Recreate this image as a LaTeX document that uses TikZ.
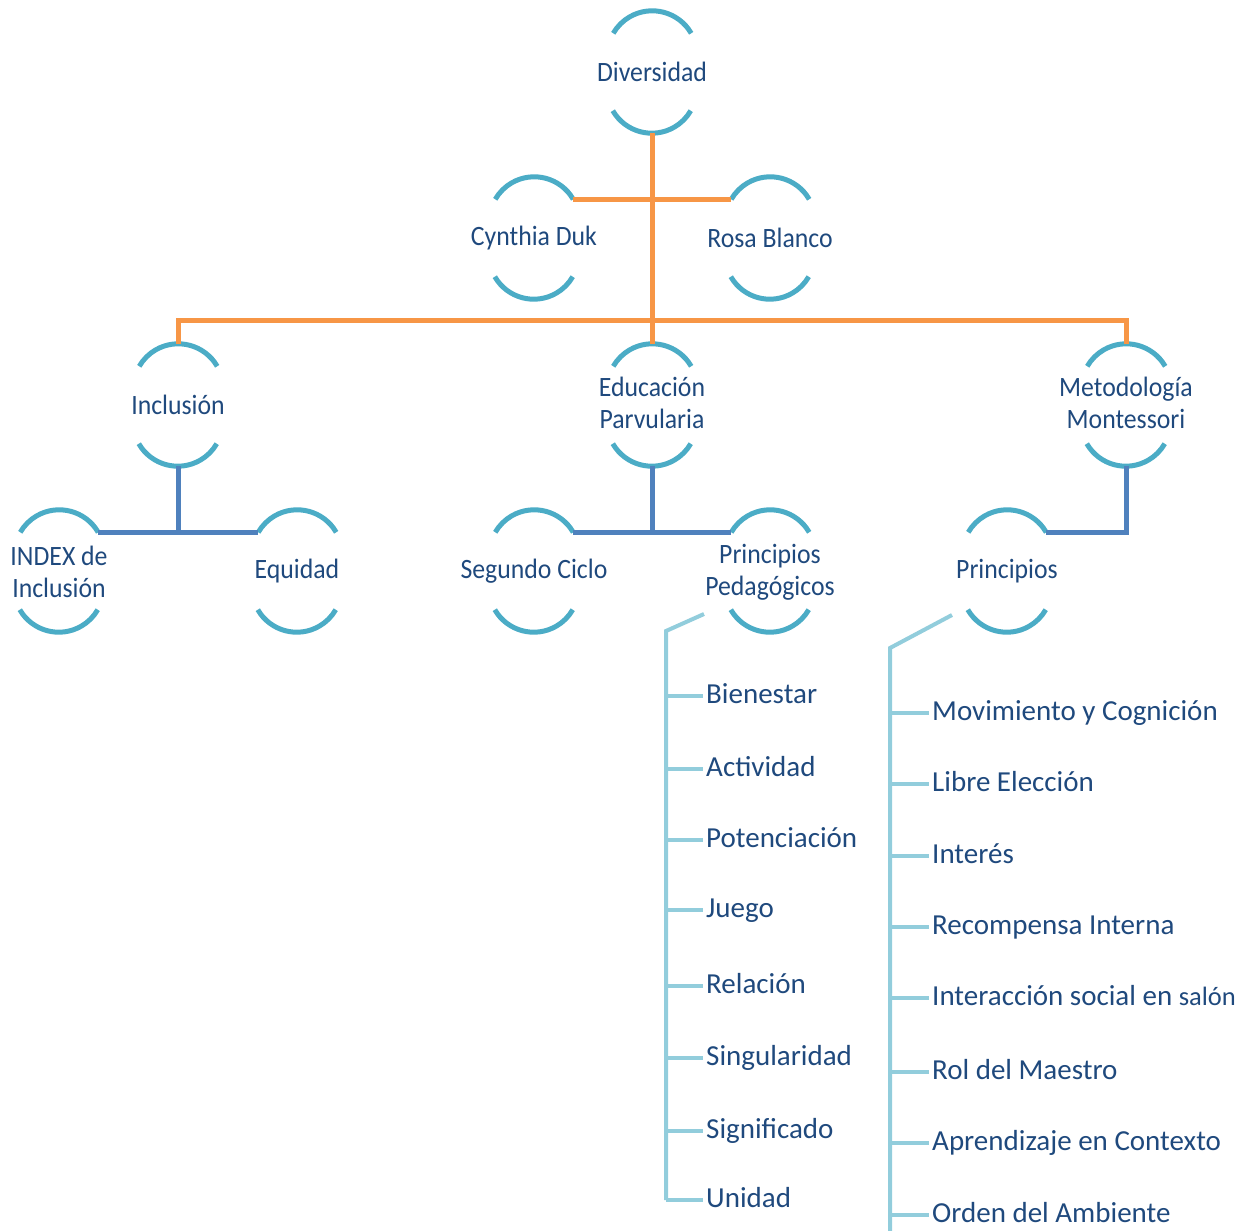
\documentclass[tikz,border=0pt]{standalone}
\usepackage{fontspec}
\setmainfont{Carlito}
\newfontfamily\condfont[FakeStretch=0.92]{Carlito}
\definecolor{txt}{HTML}{1F497D}
\definecolor{arcc}{HTML}{4BACC6}
\definecolor{org}{HTML}{F79646}
\definecolor{blu}{HTML}{4F81BD}
\definecolor{lbl}{HTML}{92CDDC}
\begin{document}
\begin{tikzpicture}[x=1pt,y=-1pt,
  ring/.style={rectangle,minimum width=78pt,minimum height=77pt,inner sep=0pt},
  lab/.style={inner sep=0pt,align=center,text=txt,font=\condfont\fontsize{28}{32}\selectfont},
  arcline/.style={draw=arcc,line width=5pt},
  oline/.style={draw=org,line width=5pt},
  bline/.style={draw=blu,line width=5pt},
  lline/.style={draw=lbl,line width=4pt},
  item/.style={anchor=west,inner sep=0pt,text=txt,font=\fontsize{29}{34}\selectfont,text height=14pt,text depth=0pt}]
\useasboundingbox (0,0) rectangle (1250,1231);

% ring nodes (box corners = arc end points)
\node[ring] (div) at (652,72) {};
\node[ring] (cyn) at (534,238) {};
\node[ring] (ros) at (770,238) {};
\node[ring] (inc) at (178,405) {};
\node[ring] (edu) at (652,405) {};
\node[ring] (met) at (1126,405) {};
\node[ring] (idx) at (59,571) {};
\node[ring] (equ) at (297,571) {};
\node[ring] (seg) at (534,571) {};
\node[ring] (ped) at (770,571) {};
\node[ring] (pri) at (1007,571) {};

\node[lab] (div-t) at (div) {Diversidad};
\node[lab] (cyn-t) at (cyn) {Cynthia Duk};
\node[lab] (ros-t) at (ros) {Rosa Blanco};
\node[lab] (inc-t) at (inc) {Inclusión};
\node[lab] (edu-t) at ([yshift=2pt]edu.center) {Educación\\Parvularia};
\node[lab] (met-t) at ([yshift=2pt]met.center) {Metodología\\Montessori};
\node[lab] (idx-t) at ([yshift=-1pt]idx.center) {INDEX de\\Inclusión};
\node[lab] (equ-t) at (equ) {Equidad};
\node[lab] (seg-t) at (seg) {Segundo Ciclo};
\node[lab] (ped-t) at ([yshift=-1pt]ped.center) {Principios\\Pedagógicos};
\node[lab] (pri-t) at (pri) {Principios};

\foreach \n in {div,cyn,ros,inc,edu,met,idx,equ,seg,ped,pri}{
  \draw[arcline] (\n.north east) arc[start angle=30,end angle=150,radius=45pt];
  \draw[arcline] (\n.south west) arc[start angle=210,end angle=330,radius=45pt];
  \coordinate (\n-top) at ([yshift=22.5pt]\n.north);
  \coordinate (\n-bot) at ([yshift=-22.5pt]\n.south);
}

% orange connectors
\coordinate (hub) at (652,320);
\draw[oline] (div-bot) -- (edu-top);
\draw[oline] (cyn.north east) -- (ros.north west);
\draw[oline] (inc-top) |- (hub) -| (met-top);

% blue connectors
\draw[bline] (idx.north east) -- (equ.north west);
\draw[bline] (inc-bot) -- (inc-bot |- idx.north east);
\draw[bline] (seg.north east) -- (ped.north west);
\draw[bline] (edu-bot) -- (edu-bot |- seg.north east);
\draw[bline] (met-bot) |- (pri.north east);

% left list
\node[item] (b1) at (706,696) {Bienestar};
\node[item] (b2) at (706,769) {Actividad};
\node[item] (b3) at (706,840) {Potenciación};
\node[item] (b4) at (706,910) {Juego};
\node[item] (b5) at (706,986) {Relación};
\node[item] (b6) at (706,1058) {Singularidad};
\node[item] (b7) at (706,1131) {Significado};
\node[item] (b8) at (706,1200) {Unidad};

\coordinate (pa) at (704,614);
\coordinate (pb) at (666,631);
\draw[lline] (pa) -- (pb) -- (pb |- b8.west);
\foreach \i in {1,...,8}{
  \draw[lline] (pb |- b\i.west) -- ([xshift=-3pt]b\i.west);
}

% right list
\node[item] (c1) at (932,713) {Movimiento y Cognición};
\node[item] (c2) at (932,784) {Libre Elección};
\node[item] (c3) at (932,856) {Interés};
\node[item] (c4) at (932,927) {Recompensa Interna};
\node[item] (c5) at (932,998) {Interacción social en {\fontsize{26.5}{30}\selectfont salón}};
\node[item] (c6) at (932,1072) {Rol del Maestro};
\node[item] (c7) at (932,1143) {Aprendizaje en Contexto};
\node[item] (c8) at (932,1215) {Orden del Ambiente};

\coordinate (qa) at (952,615);
\coordinate (qb) at (890,648);
\coordinate (qe) at (890,1231);
\draw[lline] (qa) -- (qb) -- (qe);
\foreach \i in {1,...,8}{
  \draw[lline] (qb |- c\i.west) -- ([xshift=-3pt]c\i.west);
}
\end{tikzpicture}
\end{document}
